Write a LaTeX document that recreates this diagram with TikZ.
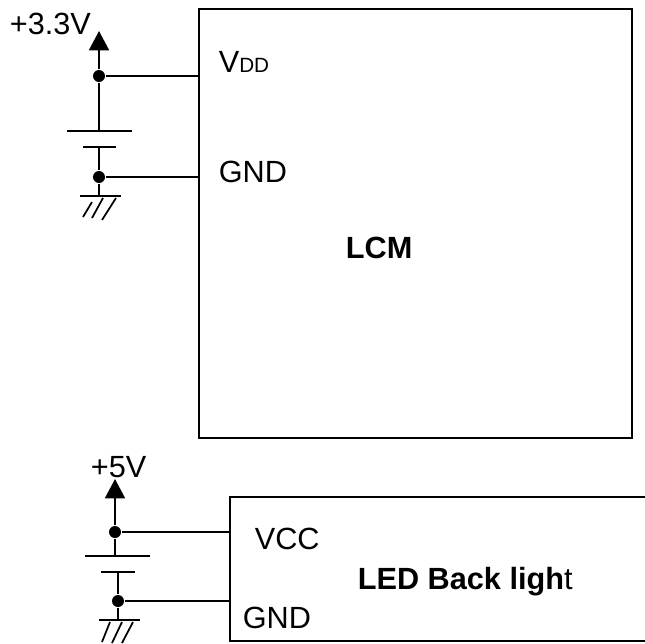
\documentclass[tikz,border=0pt]{standalone}
\usepackage{fontspec}
\setmainfont{Liberation Sans}
\usetikzlibrary{arrows.meta}
\tikzset{every picture/.style={line width=1.3pt}}
\tikzset{
  lbl/.style={anchor=base west,inner sep=0pt,font=\fontsize{23}{27}\selectfont},
  boxnode/.style={draw,anchor=north west,inner sep=0pt},
  junction/.style={circle,fill=black,inner sep=0pt,minimum size=9pt},
  supply/.style={-{Triangle[width=15pt,length=14.5pt]}}
}

\begin{document}
\begin{tikzpicture}[x=0.75pt,y=0.75pt,yscale=-1,xscale=1]
\useasboundingbox (0,0) rectangle (645,643);

% LCM box
\node [boxnode,minimum width=324.75pt,minimum height=321.75pt] (lcm) at (198,8) {};
% Back light box, open on the right
\coordinate (blnw) at (230,497);
\coordinate (blne) at (645,497);
\coordinate (blsw) at (230,641);
\coordinate (blse) at (645,641);
\draw (blne) -- (blnw) -- (blsw) -- (blse);

% upper supply
\node [junction] (vddj) at (99,76) {};
\node [junction] (gndj) at (99,177) {};
\coordinate (vddtip) at (99,31);
\coordinate (batla) at (67,131);
\coordinate (batlb) at (132,131);
\coordinate (batlm) at (99,131);
\coordinate (batsa) at (83,147);
\coordinate (batsb) at (116,147);
\coordinate (batsm) at (99,147);
\coordinate (gnda) at (80,196);
\coordinate (gndb) at (121,196);
\coordinate (gndm) at (99,196);
\draw [supply] (vddj) -- (vddtip);
\draw (vddj) -- (batlm);
\draw (batla) -- (batlb);
\draw (batsa) -- (batsb);
\draw (batsm) -- (gndj) -- (gndm);
\draw (gnda) -- (gndb);
\draw (vddj) -- (vddj -| lcm.west);
\draw (gndj) -- (gndj -| lcm.west);
% hatch
\draw (92,202) -- (83,217);
\draw (103,198) -- (92,218);
\draw (116,198) -- (102,220);

% lower supply
\node [junction] (vccj) at (115,532) {};
\node [junction] (bgndj) at (118,601) {};
\coordinate (vcctip) at (115,479);
\coordinate (blatla) at (85,556);
\coordinate (blatlb) at (150,556);
\coordinate (blatlm) at (115,556);
\coordinate (blatsa) at (101,572);
\coordinate (blatsb) at (135,572);
\coordinate (blatsm) at (118,572);
\coordinate (bgnda) at (99,620);
\coordinate (bgndb) at (140,620);
\coordinate (bgndm) at (118,620);
\draw [supply] (vccj) -- (vcctip);
\draw (vccj) -- (blatlm);
\draw (blatla) -- (blatlb);
\draw (blatsa) -- (blatsb);
\draw (blatsm) -- (bgndj) -- (bgndm);
\draw (bgnda) -- (bgndb);
\draw (vccj) -- (vccj -| blnw);
\draw (bgndj) -- (bgndj -| blnw);
% hatch
\draw (110,622) -- (102,642);
\draw (122,622) -- (112,643);
\draw (133,622) -- (122,643);

% Text Node
\node [lbl] (vddv) at (9,34) {+3.3V};
% Text Node
\node [lbl] (vddl) at (218,72) {V{\fontsize{15.5}{18}\selectfont DD}};
% Text Node
\node [lbl] (gndl) at (218,182) {GND};
% Text Node
\node [lbl] (lcml) at (345,258) {\bfseries LCM};
% Text Node
\node [lbl] (vccv) at (90,477) {+5V};
% Text Node
\node [lbl] (vccl) at (254,549) {VCC};
% Text Node
\node [lbl] (bgndl) at (242,628) {GND};
% Text Node
\node [lbl] (bll) at (357,589) {\bfseries LED Back ligh\mdseries t};

\end{tikzpicture}
\end{document}
